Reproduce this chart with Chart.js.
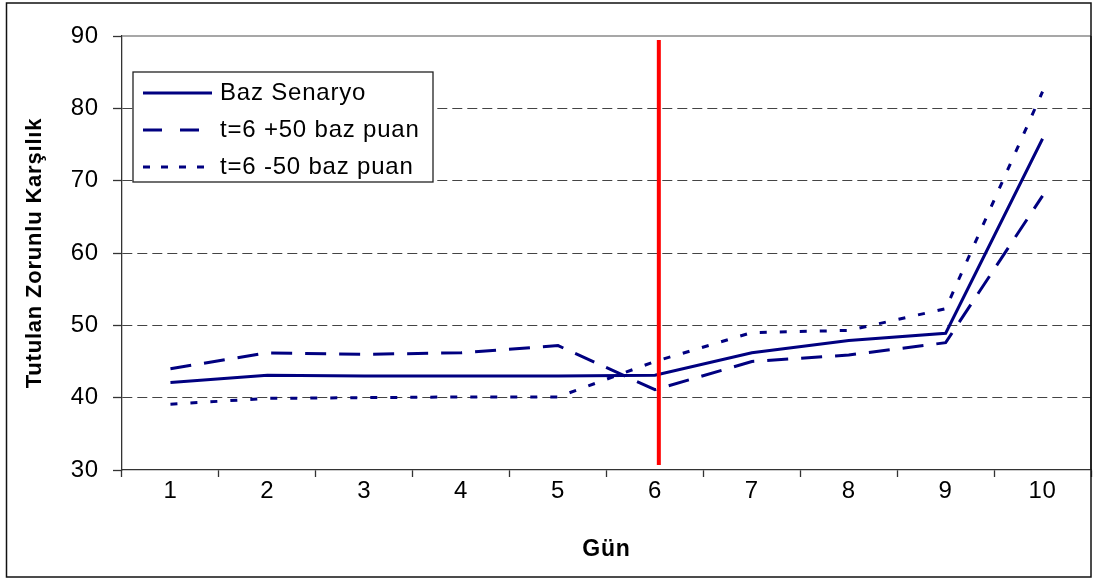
<!DOCTYPE html>
<html>
<head>
<meta charset="utf-8">
<script src="https://cdn.jsdelivr.net/npm/chart.js@4.4.0/dist/chart.umd.min.js"></script>
<style>
  html, body { margin: 0; padding: 0; background: #fff; }
  #wrap { width: 1095px; height: 581px; position: relative; }
</style>
</head>
<body>
<div id="wrap"><canvas id="chart"></canvas></div>
<script>
// === DATA ===
const days = ["1", "2", "3", "4", "5", "6", "7", "8", "9", "10"];
const bazSenaryo = [42.1, 43.1, 43.0, 43.0, 43.0, 43.1, 46.2, 47.9, 48.9, 75.8];
const artis50 = [44.0, 46.2, 46.0, 46.2, 47.2, 41.1, 45.0, 45.9, 47.6, 67.9];
const azalis50 = [39.1, 39.9, 40.0, 40.1, 40.1, 45.0, 49.0, 49.3, 52.3, 82.3];
const yMin = 30, yMax = 90, yStep = 10;

// rate change marker (in day units) and its vertical extent
const shockDay = 6.04;
const shockFrom = 89.45, shockTo = 30.7;

const navy = "#000080";
const fontSize = 24;
Chart.defaults.font.family = "'Liberation Sans', Arial, sans-serif";
Chart.defaults.color = "#000";

// slightly wider text spacing, like the old office renderer
const textSpacing = {
  id: "textSpacing",
  beforeDraw(chart) { chart.ctx.letterSpacing = "0.8px"; }
};

// outer frame + top/right edges of the plot area
const frame = {
  id: "frame",
  beforeDatasetsDraw(chart) {
    const { ctx, chartArea: a } = chart;
    ctx.save();
    ctx.strokeStyle = "#8a8a8a";
    ctx.lineWidth = 1.5;
    ctx.beginPath();
    ctx.moveTo(a.left, a.top);
    ctx.lineTo(a.right, a.top);
    ctx.stroke();
    ctx.strokeStyle = "#333";
    ctx.lineWidth = 1.5;
    ctx.beginPath();
    ctx.moveTo(a.right, a.top);
    ctx.lineTo(a.right, a.bottom);
    ctx.stroke();
    ctx.strokeStyle = "#111";
    ctx.lineWidth = 1.5;
    ctx.strokeRect(6.5, 3, a.right - 6.5, chart.height - 7);
    ctx.restore();
  }
};

// red vertical line at the shock day
const shockLine = {
  id: "shockLine",
  afterDatasetsDraw(chart) {
    const { ctx, scales: { x, y } } = chart;
    const i = Math.floor(shockDay) - 1;
    const px = x.getPixelForValue(i) + (shockDay - Math.floor(shockDay)) * (x.getPixelForValue(i + 1) - x.getPixelForValue(i));
    ctx.save();
    ctx.strokeStyle = "#ff0000";
    ctx.lineWidth = 4;
    ctx.beginPath();
    ctx.moveTo(px, y.getPixelForValue(shockFrom));
    ctx.lineTo(px, y.getPixelForValue(shockTo));
    ctx.stroke();
    ctx.restore();
  }
};

// boxed legend inside the plot, top left
const boxLegend = {
  id: "boxLegend",
  afterDatasetsDraw(chart) {
    const { ctx, chartArea: a } = chart;
    const bx = a.left + 11, by = a.top + 36, bw = 300, bh = 110;
    ctx.save();
    ctx.fillStyle = "#fff";
    ctx.fillRect(bx, by, bw, bh);
    ctx.strokeStyle = "#222";
    ctx.lineWidth = 1.3;
    ctx.strokeRect(bx, by, bw, bh);
    ctx.font = fontSize + "px 'Liberation Sans', Arial, sans-serif";
    ctx.textBaseline = "middle";
    ctx.textAlign = "left";
    chart.data.datasets.forEach((ds, i) => {
      const ry = by + 21 + i * 37;
      ctx.strokeStyle = ds.borderColor;
      ctx.lineWidth = ds.borderWidth;
      ctx.setLineDash(ds.legendDash || []);
      ctx.beginPath();
      ctx.moveTo(bx + 10, ry);
      ctx.lineTo(bx + 79, ry);
      ctx.stroke();
      ctx.setLineDash([]);
      ctx.fillStyle = "#000";
      ctx.fillText(ds.label, bx + 87, ry);
    });
    ctx.restore();
  }
};

const lineStyle = { borderColor: navy, borderWidth: 3, pointRadius: 0, tension: 0, fill: false, borderCapStyle: "butt" };

new Chart(document.getElementById("chart"), {
  type: "line",
  data: {
    labels: days,
    datasets: [
      { label: "Baz Senaryo", data: bazSenaryo, ...lineStyle },
      { label: "t=6 +50 baz puan", data: artis50, ...lineStyle, borderDash: [21, 13], legendDash: [19, 18] },
      { label: "t=6 -50 baz puan", data: azalis50, ...lineStyle, borderDash: [7, 13], legendDash: [7, 11] }
    ]
  },
  options: {
    responsive: true,
    maintainAspectRatio: false,
    animation: false,
    layout: { padding: { top: 36, right: 4, left: 0, bottom: 0 } },
    plugins: { legend: { display: false }, tooltip: { enabled: false } },
    scales: {
      x: {
        offset: true,
        afterFit: s => { s.height = 111; },
        grid: { offset: true, drawOnChartArea: false, tickLength: 7, tickColor: "#333", tickWidth: 1.3 },
        border: { color: "#333", width: 1.3 },
        ticks: { font: { size: fontSize }, padding: 0, maxRotation: 0 },
        title: { display: true, text: "Gün", font: { size: 23, weight: "bold" }, padding: { top: 0, bottom: 18 } }
      },
      y: {
        min: yMin,
        max: yMax,
        afterFit: s => { s.width = 122; },
        grid: {
          color: c => (c.tick && c.tick.value > yMin && c.tick.value < yMax) ? "#444" : "rgba(0,0,0,0)",
          lineWidth: 1,
          tickLength: 9,
          tickColor: "#333",
          tickWidth: 1.3
        },
        border: { color: "#333", width: 1.3, dash: [10, 5] },
        ticks: { stepSize: yStep, font: { size: fontSize }, padding: 14 },
        title: { display: true, text: "Tutulan Zorunlu Karşılık", font: { size: 22, weight: "bold" }, padding: { top: 22, bottom: 0 } }
      }
    }
  },
  plugins: [textSpacing, frame, shockLine, boxLegend]
});
</script>
</body>
</html>
